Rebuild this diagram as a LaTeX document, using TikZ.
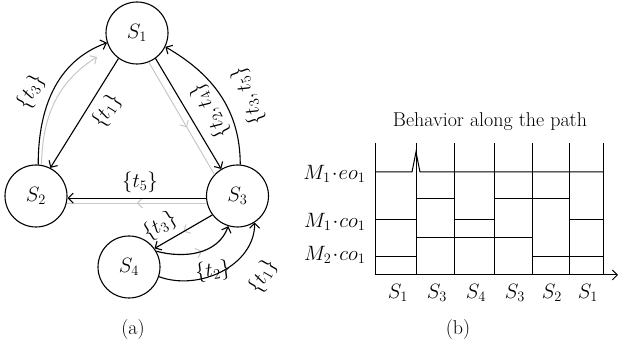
\documentclass[tikz,border=0pt]{standalone}
\usetikzlibrary{arrows.meta,decorations.markings}
\begin{document}
\begin{tikzpicture}[x=1pt,y=1pt,
  every node/.style={font=\fontsize{20}{24}\selectfont},
  state/.style={circle,draw,line width=1.1pt,minimum size=62pt,inner sep=0pt},
  edge/.style={line width=1.1pt,-{Straight Barb[length=5pt,width=10pt,line width=1.1pt]}},
  gedge/.style={line width=1pt,draw=black!22,-{Straight Barb[length=5pt,width=10pt,line width=1pt]}},
  gmid/.style={line width=1pt,draw=black!22,postaction={decorate},
    decoration={markings,mark=at position #1 with {\arrow{Straight Barb[length=5pt,width=10pt,line width=1pt]}}}},
  lbl/.style={inner sep=1pt},
  sig/.style={line width=1pt},
  grid/.style={line width=1pt}
]
\useasboundingbox (0,0) rectangle (619,347);
% states
\node[state] (S1) at (137,314) {$S_1$};
\node[state] (S2) at (36,151) {$S_2$};
\node[state] (S3) at (237.5,151) {$S_3$};
\node[state] (S4) at (129,80) {$S_4$};
% gray paths
\coordinate (g1) at (97,290);
\draw[gedge] (S2.80) to[out=89,in=212] (g1);
\draw[gmid=0.58] (S1.292) -- (S3.137);
\draw[gmid=0.5] (S3.193) -- (S2.-13);
\draw[gmid=0.5] (S3.217) -- (S4.36);
\draw[gmid=0.55] (S4.30) to[out=-15,in=-110] (S3.253);
% black edges
\draw[edge] (S2.86) to[out=90,in=200] (S1.198);
\draw[edge] (S1.234) -- (S2.63);
\draw[edge] (S1.306) -- (S3.121);
\draw[edge] (S3.85) to[out=90,in=-30] (S1.-26);
\draw[edge] (S3.184) -- (S2.-4);
\draw[edge] (S3.217) -- (S4.36);
\draw[edge] (S4.30) to[out=-15,in=-110] (S3.253);
\draw[edge] (S4.-18) to[out=-20,in=-90] (S3.-57);
% edge labels
\node[lbl,rotate=62] (l1) at (31,255) {$\{t_3\}$};
\node[lbl,rotate=58] (l2) at (107,236) {$\{t_1\}$};
\node[lbl,rotate=118] (l3) at (210,236) {$\{t_2,t_4\}$};
\node[lbl,rotate=110] (l4) at (248,251) {$\{t_3,t_5\}$};
\node[lbl] (l5) at (140,165) {$\{t_5\}$};
\node[lbl,rotate=32] (l6) at (160,121) {$\{t_3\}$};
\node[lbl,rotate=8] (l7) at (213,76) {$\{t_2\}$};
\node[lbl,rotate=60] (l8) at (263,71) {$\{t_1\}$};
\node (ca) at (133,17) {(a)};
% timing diagram
\node (title) at (490,225) {Behavior along the path};
\coordinate (ax0) at (375,72);
\coordinate (axT) at (375,204);
\coordinate (axR) at (618,72);
\draw[grid] (axT) -- (ax0);
\draw[grid,-{Straight Barb[length=5pt,width=10pt,line width=1pt]}] (ax0) -- (axR);
\foreach \x in {416,454,494,532,569,603}{
  \draw[grid] (\x,72) -- (\x,204);
}
\draw[sig] (375,175) -- (412,175) -- (416,195) -- (420,175) -- (603,175);
\draw[sig] (375,127) -- (416,127) -- (416,148) -- (454,148) -- (454,127) -- (494,127) -- (494,148) -- (569,148) -- (569,127) -- (603,127);
\draw[sig] (375,90) -- (416,90) -- (416,109) -- (532,109) -- (532,90) -- (603,90);
\node[anchor=east] (m1) at (369,173) {$M_1\!\cdot\! eo_1$};
\node[anchor=east] (m2) at (369,125) {$M_1\!\cdot\! co_1$};
\node[anchor=east] (m3) at (369,92) {$M_2\!\cdot\! co_1$};
\node (x1) at (398,54) {$S_1$};
\node (x2) at (437,54) {$S_3$};
\node (x3) at (476,54) {$S_4$};
\node (x4) at (515,54) {$S_3$};
\node (x5) at (552,54) {$S_2$};
\node (x6) at (588,54) {$S_1$};
\node (cb) at (458,17) {(b)};
\end{tikzpicture}
\end{document}
